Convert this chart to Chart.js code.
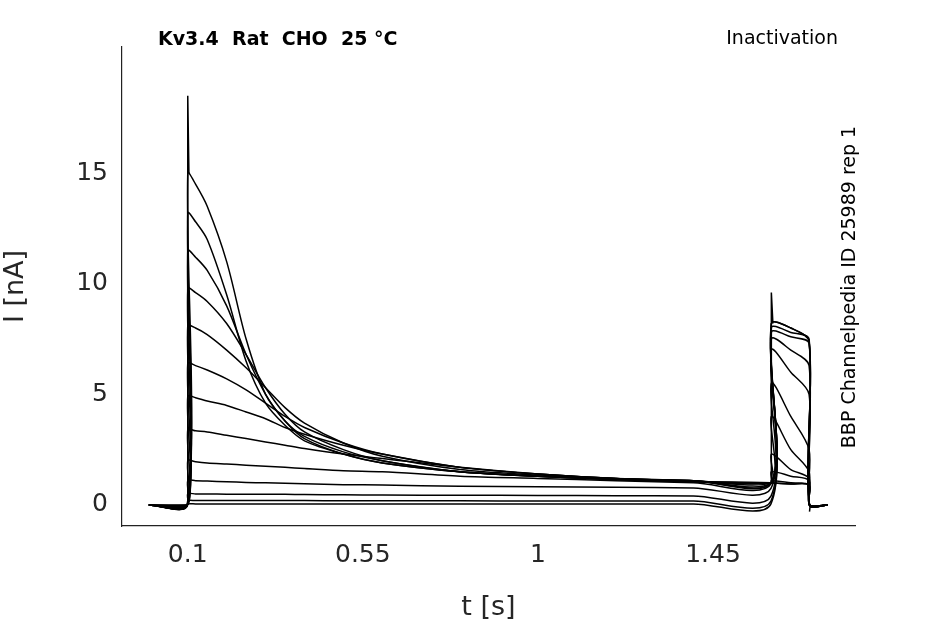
<!DOCTYPE html>
<html>
<head>
<meta charset="utf-8">
<script src="https://cdn.jsdelivr.net/npm/chart.js@4.4.1/dist/chart.umd.min.js"></script>
<style>
  body { margin: 0; background: #fff; }
  #wrap { width: 945px; height: 624px; }
</style>
</head>
<body>
<div id="wrap"><canvas id="c" width="945" height="624"></canvas></div>
<script>
// sample times (s)
const tPre = [0.1, 0.12, 0.15, 0.2, 0.25, 0.3, 0.35, 0.4, 0.5, 0.6, 0.8, 1.0, 1.2, 1.4, 1.599];
const tTest = [1.6, 1.65, 1.697];
const xTicks = [0.1, 0.55, 1, 1.45];
const yTicks = [0, 5, 10, 15];

// current (nA) during prepulse, per trace
const pre = [
  [15.0, 14.5, 13.5, 11.0, 7.5, 5.0, 3.8, 3.0, 2.3, 1.9, 1.5, 1.3, 1.15, 1.05, 1.0],
  [13.2, 12.8, 12.0, 9.5, 6.5, 4.6, 3.6, 2.9, 2.3, 1.9, 1.5, 1.3, 1.15, 1.05, 1.0],
  [11.5, 11.2, 10.6, 9.0, 6.8, 5.0, 3.8, 3.1, 2.4, 2.0, 1.5, 1.3, 1.15, 1.05, 1.0],
  [9.8, 9.6, 9.2, 8.2, 6.8, 5.3, 4.1, 3.3, 2.5, 2.0, 1.5, 1.3, 1.15, 1.05, 1.0],
  [8.1, 8.0, 7.7, 7.0, 6.2, 5.3, 4.4, 3.7, 2.8, 2.2, 1.6, 1.35, 1.2, 1.1, 1.0],
  [6.4, 6.3, 6.1, 5.7, 5.2, 4.6, 4.0, 3.5, 2.8, 2.3, 1.7, 1.4, 1.2, 1.1, 1.0],
  [4.9, 4.85, 4.7, 4.5, 4.2, 3.9, 3.5, 3.2, 2.7, 2.3, 1.7, 1.4, 1.2, 1.1, 1.0],
  [3.4, 3.35, 3.3, 3.15, 3.0, 2.85, 2.7, 2.55, 2.3, 2.1, 1.7, 1.4, 1.2, 1.1, 1.0],
  [2.0, 1.95, 1.9, 1.85, 1.8, 1.75, 1.7, 1.65, 1.55, 1.5, 1.3, 1.2, 1.1, 1.0, 0.95],
  [1.1, 1.1, 1.08, 1.05, 1.02, 1.0, 0.98, 0.96, 0.92, 0.9, 0.85, 0.82, 0.8, 0.77, 0.75],
  [0.5, 0.5, 0.5, 0.49, 0.49, 0.48, 0.48, 0.47, 0.46, 0.45, 0.44, 0.43, 0.42, 0.41, 0.4],
  [0.2, 0.2, 0.2, 0.2, 0.2, 0.2, 0.2, 0.2, 0.19, 0.19, 0.19, 0.18, 0.18, 0.18, 0.18],
  [0.05, 0.05, 0.05, 0.05, 0.05, 0.05, 0.05, 0.05, 0.05, 0.05, 0.05, 0.05, 0.05, 0.05, 0.05]
];
// current (nA) during test pulse, per trace
const test = [
  [1.0, 0.95, 0.9],
  [1.0, 0.95, 0.9],
  [1.1, 1.0, 0.9],
  [1.5, 1.3, 1.1],
  [2.3, 1.6, 1.2],
  [4.0, 2.5, 1.5],
  [5.5, 4.0, 2.5],
  [7.0, 6.0, 5.0],
  [7.5, 7.0, 6.3],
  [7.8, 7.6, 7.3],
  [8.0, 7.8, 7.5],
  [8.2, 8.0, 7.4],
  [8.2, 8.0, 7.4]
];
// capacitive spikes
const spikeT = [0.1, 0.1, 0.103, 1.6, 1.6, 1.604, 1.698, 1.7];
const spikeI = [0, 18.5, 15.0, 1.0, 9.6, 8.2, -0.3, 0];

const datasets = pre.map((p, k) => {
  const pts = [{x: 0, y: 0}, {x: 0.099, y: 0}];
  tPre.forEach((t, i) => pts.push({x: t, y: p[i]}));
  tTest.forEach((t, i) => pts.push({x: t, y: test[k][i]}));
  pts.push({x: 1.698, y: 0}, {x: 1.745, y: 0});
  return { data: pts, borderColor: '#000', borderWidth: 1.5, pointRadius: 0, showLine: true, tension: 0.3 };
});
datasets.push({
  data: [0, 1, 2].map(i => ({x: spikeT[i], y: spikeI[i]})),
  borderColor: '#000', borderWidth: 1.5, pointRadius: 0, showLine: true
});
datasets.push({
  data: [3, 4, 5].map(i => ({x: spikeT[i], y: spikeI[i]})),
  borderColor: '#000', borderWidth: 1.5, pointRadius: 0, showLine: true
});
datasets.push({
  data: [6, 7].map(i => ({x: spikeT[i], y: spikeI[i]})),
  borderColor: '#000', borderWidth: 1.5, pointRadius: 0, showLine: true
});

const labels = {
  id: 'labels',
  afterDraw(chart) {
    const ctx = chart.ctx;
    ctx.save();
    ctx.fillStyle = '#000';
    ctx.font = 'bold 19px "DejaVu Sans"';
    ctx.textBaseline = 'middle';
    ctx.textAlign = 'left';
    ctx.fillText('Kv3.4  Rat  CHO  25 °C', 158, 40);
    ctx.font = '19px "DejaVu Sans"';
    ctx.textAlign = 'right';
    ctx.fillText('Inactivation', 838, 39);
    ctx.translate(850, 287);
    ctx.rotate(-Math.PI / 2);
    ctx.textAlign = 'center';
    ctx.fillText('BBP Channelpedia ID 25989 rep 1', 0, 0);
    ctx.restore();
  }
};

new Chart(document.getElementById('c'), {
  type: 'scatter',
  data: { datasets },
  plugins: [labels],
  options: {
    responsive: false,
    animation: false,
    layout: { padding: { top: 47, right: 90, left: 0, bottom: 0 } },
    plugins: { legend: { display: false }, tooltip: { enabled: false } },
    scales: {
      x: {
        min: -0.069, max: 1.815,
        afterFit: s => { s.height = 98; },
        afterBuildTicks: s => { s.ticks = xTicks.map(v => ({value: v})); },
        grid: { display: false, drawTicks: true, tickLength: 6 },
        border: { color: '#222', width: 1.2 },
        ticks: { color: '#262626', font: { size: 25, family: 'DejaVu Sans' }, padding: 8,
                 callback: v => String(v) },
        title: { display: true, text: 't [s]', color: '#262626', font: { size: 27, family: 'DejaVu Sans' }, padding: 0 }
      },
      y: {
        min: -0.95, max: 20.7,
        afterFit: s => { s.width = 122; },
        afterBuildTicks: s => { s.ticks = yTicks.map(v => ({value: v})); },
        grid: { display: false, drawTicks: true, tickLength: 6 },
        border: { color: '#222', width: 1.2 },
        ticks: { color: '#262626', font: { size: 25, family: 'DejaVu Sans' }, padding: 8 },
        title: { display: true, text: 'I [nA]', color: '#262626', font: { size: 27, family: 'DejaVu Sans' }, padding: 0 }
      }
    }
  }
});
</script>
</body>
</html>
